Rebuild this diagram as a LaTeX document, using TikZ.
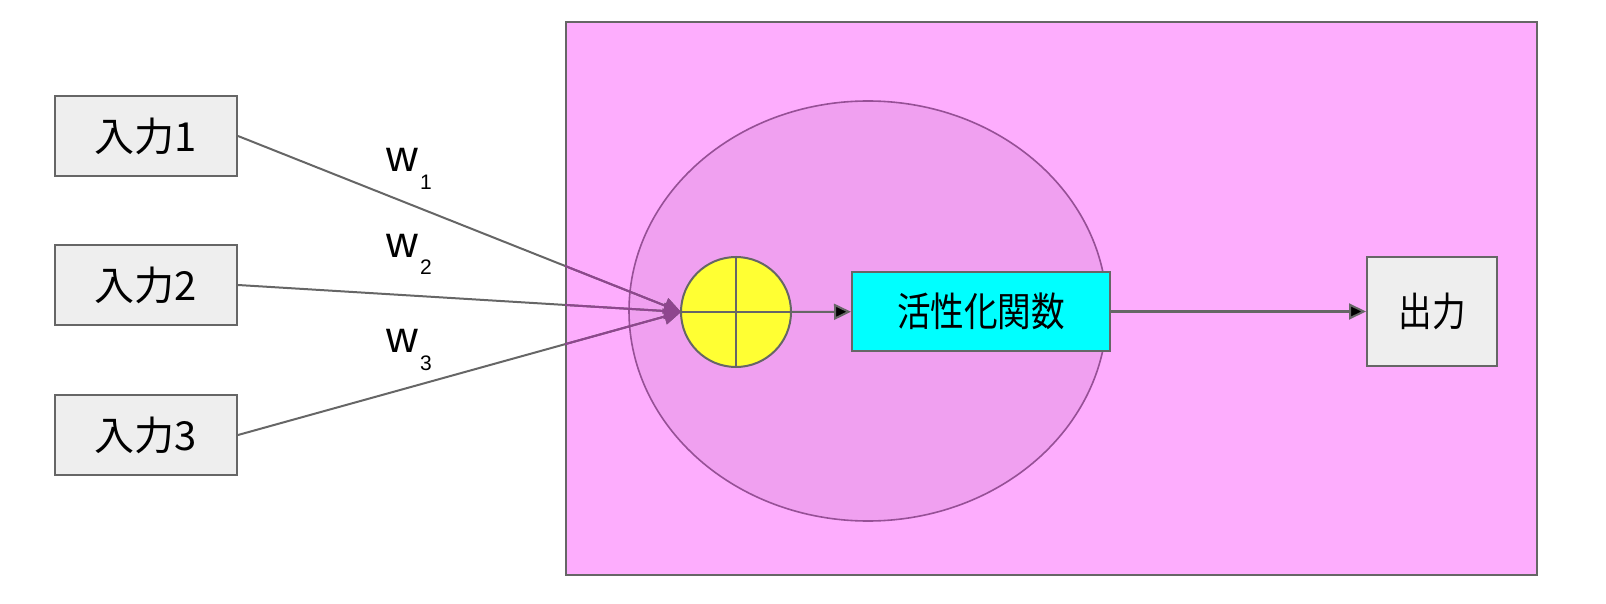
\documentclass[tikz,border=0pt]{standalone}
\usepackage{fontspec}
\setmainfont{Liberation Sans}
\newfontfamily\jpfont{Noto Sans CJK JP}
\usetikzlibrary{arrows.meta,positioning,shapes}

\definecolor{linegray}{RGB}{102,102,102}
\definecolor{boxgray}{RGB}{238,238,238}
\definecolor{neuronpink}{RGB}{253,173,253}
\definecolor{cellpink}{RGB}{240,160,240}
\definecolor{cellrim}{RGB}{150,80,150}
\definecolor{sumyellow}{RGB}{255,255,51}
\definecolor{actcyan}{RGB}{0,255,255}
\definecolor{wirepurple}{RGB}{142,70,142}

\tikzset{
  box/.style={draw=linegray,line width=1pt,inner sep=0pt,font=\jpfont\fontsize{20}{24}\selectfont},
  inbox/.style={box,fill=boxgray,minimum width=91pt,minimum height=40pt},
  wire/.style={draw=linegray,line width=1pt,-{Triangle[length=8.5pt,width=8pt]}},
  wlabel/.style={inner sep=0pt,anchor=base west,font=\fontsize{22}{24}\selectfont},
}
\newcommand{\wsub}[1]{w\hspace{1pt}\raisebox{-9pt}{\fontsize{10.5}{12}\selectfont #1}}
\newcommand{\narrow}[1]{\scalebox{0.84}[1]{#1}}

\begin{document}
\begin{tikzpicture}[x=0.5pt,y=-0.5pt,on grid]
  \useasboundingbox (0,0) rectangle (1606,604);

  % neuron
  \node[box,fill=neuronpink,minimum width=485.5pt,minimum height=276.5pt] (neuron) at (1051.5,298.5) {};
  \node[ellipse,draw=cellrim,fill=cellpink,line width=0.8pt,minimum width=239pt,minimum height=210pt,inner sep=0pt] (cell) at (868,311) {};

  % inputs
  \node[inbox]		(in1)	at (146,136)	{入力1};
  \node[inbox]		(in2)	[below=74.5pt of in1]	{入力2};
  \node[inbox]		(in3)	[below=75pt of in2]	{入力3};

  \coordinate (sumin) at (681,312);
  \foreach \i in {1,2,3}
    \draw[wire] (in\i.east) -- (sumin);
  \begin{scope}
    \clip (neuron.south west) rectangle (neuron.north east);
    \foreach \i in {1,2,3}
      \draw[wire,draw=wirepurple,fill=wirepurple] (in\i.east) -- (sumin);
  \end{scope}

  \node[wlabel] (w1) at (386,172) {\wsub{1}};
  \node[wlabel] (w2) at (386,257) {\wsub{2}};
  \node[wlabel] (w3) at (386,352) {\wsub{3}};

  % sum, activation, output
  \node[circle,draw=linegray,fill=sumyellow,line width=1pt,minimum size=55pt,inner sep=0pt] (sum) at (736,312) {};
  \draw[linegray,line width=1pt] (sum.north) -- (sum.south) (sum.west) -- (sum.east);
  \node[box,fill=actcyan,minimum width=129pt,minimum height=39.5pt] (act) at (981,311.5) {\narrow{活性化関数}};
  \node[inbox,minimum width=65pt,minimum height=54pt] (out) [right=225.5pt of act] {\narrow{出力}};

  \path[wire]
    (sum) edge (act)
    (act) edge (out);
\end{tikzpicture}
\end{document}
